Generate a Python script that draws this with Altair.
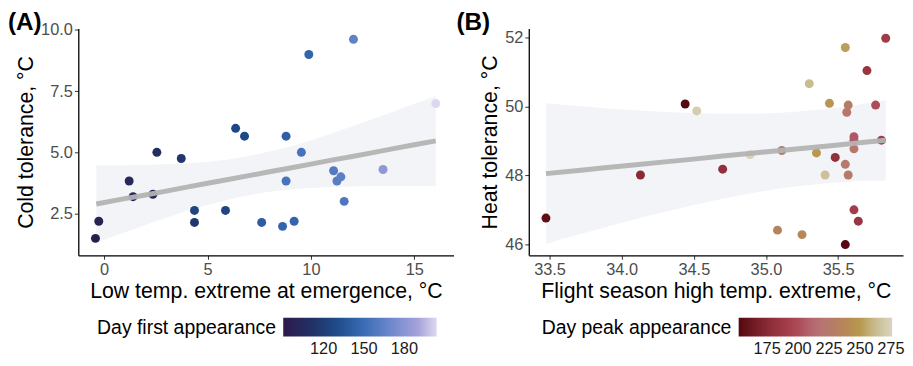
import altair as alt
import pandas as pd

FONT = "Liberation Sans"

# ---------------- Panel A data ----------------
a_low_temp = [-0.42, -0.26, 1.21, 1.40, 2.36, 2.55, 3.73, 4.37, 4.37, 5.87, 6.36, 6.79, 7.62,
              8.63, 8.80, 8.80, 9.19, 9.54, 9.90, 11.10, 11.26, 11.45, 11.61, 12.06, 13.49, 16.04]
a_cold_tol = [1.49, 2.19, 3.83, 3.19, 3.29, 5.00, 4.75, 2.63, 2.14, 2.63, 5.98, 5.66, 2.14,
              1.98, 5.66, 3.83, 2.19, 5.00, 8.99, 4.25, 3.83, 4.00, 3.00, 9.61, 4.30, 6.99]
a_day_first = [92, 98, 103, 103, 105, 110, 115, 125, 115, 125, 128, 128, 140,
               145, 142, 155, 145, 155, 145, 160, 162, 163, 158, 165, 182, 204]

# fitted trend and 95% band of panel A
a_fit_x = [-0.38, 1, 2, 3, 4, 5, 6, 7, 8, 9, 10, 11, 12, 13, 14, 15, 16.04]
a_fit = [2.89, 3.11, 3.26, 3.42, 3.58, 3.74, 3.89, 4.05, 4.21, 4.36, 4.52, 4.68, 4.83, 4.99,
         5.15, 5.31, 5.47]
a_fit_lo = [1.31, 1.74, 2.04, 2.33, 2.61, 2.85, 3.07, 3.25, 3.39, 3.48, 3.55, 3.59, 3.61, 3.63,
            3.63, 3.63, 3.62]
a_fit_hi = [4.47, 4.47, 4.49, 4.51, 4.55, 4.62, 4.71, 4.85, 5.03, 5.24, 5.49, 5.77, 6.06, 6.36,
            6.67, 6.98, 7.30]

# ---------------- Panel B data ----------------
b_high_temp = [33.475, 34.13, 34.44, 34.52, 34.70, 34.89, 35.08, 35.11, 35.25, 35.30, 35.35, 35.41,
               35.44, 35.48, 35.55, 35.55, 35.55, 35.56, 35.57, 35.57, 35.61, 35.61, 35.61, 35.61,
               35.64, 35.70, 35.76, 35.80, 35.83]
b_heat_tol = [46.76, 48.01, 50.07, 49.87, 48.18, 48.60, 46.41, 48.72, 46.28, 50.66, 48.65, 48.01,
              50.09, 48.52, 51.71, 45.99, 48.32, 49.83, 50.04, 48.01, 49.12, 49.02, 48.77, 47.00,
              46.67, 51.04, 50.04, 49.02, 51.98]
b_day_peak = [157, 175, 153, 272, 180, 275, 235, 230, 238, 262, 250, 265,
              248, 180, 252, 153, 225, 222, 228, 225, 205, 205, 222, 192,
              185, 185, 200, 192, 190]

# fitted trend and 95% band of panel B
b_fit_x = [33.475, 33.7, 33.9, 34.1, 34.3, 34.5, 34.7, 34.9, 35.1, 35.3, 35.5, 35.7, 35.83]
b_fit = [48.05, 48.14, 48.23, 48.31, 48.39, 48.47, 48.56, 48.64, 48.72, 48.80, 48.88, 48.97, 49.02]
b_fit_lo = [46.01, 46.28, 46.51, 46.73, 46.94, 47.14, 47.32, 47.48, 47.62, 47.72, 47.80, 47.84,
            47.85]
b_fit_hi = [50.09, 50.01, 49.94, 49.89, 49.84, 49.81, 49.79, 49.79, 49.82, 49.88, 49.97, 50.09,
            50.19]

panel_labels = ["(A)", "(B)"]


def panel(xs, ys, days, fx, fy, flo, fhi, label, labx, xtitle, ytitle, xdom, ydom, xticks,
          yticks, xfmt, yfmt, cdom, crange, ctitle, cvalues, legx, width, height):
    pts = pd.DataFrame({"x": xs, "y": ys, "day": days})
    fit = pd.DataFrame({"x": fx, "fit": fy, "lo": flo, "hi": fhi})
    xscale = alt.Scale(domain=xdom, nice=False, zero=False)
    yscale = alt.Scale(domain=ydom, nice=False, zero=False)
    xax = alt.Axis(values=xticks, format=xfmt, title=xtitle)
    yax = alt.Axis(values=yticks, format=yfmt, title=ytitle)

    band = alt.Chart(fit).mark_area(color="#f3f4f7", opacity=1, interpolate="monotone").encode(
        x=alt.X("x:Q", scale=xscale, axis=xax),
        y=alt.Y("lo:Q", scale=yscale, axis=yax),
        y2="hi:Q",
    )
    points = alt.Chart(pts).mark_circle(size=82, opacity=1).encode(
        x=alt.X("x:Q", scale=xscale, axis=xax),
        y=alt.Y("y:Q", scale=yscale, axis=yax),
        color=alt.Color(
            "day:Q",
            scale=alt.Scale(domain=cdom, range=crange, interpolate="rgb"),
            legend=alt.Legend(
                title=ctitle, orient="none", legendX=legx, legendY=292,
                direction="horizontal", titleOrient="left", titleAnchor="middle",
                titleBaseline="middle", titlePadding=7, titleFontSize=19.6, titleLimit=400,
                titleFontWeight="normal", titleFont=FONT, titleColor="black",
                gradientLength=155, gradientThickness=19, gradientStrokeWidth=0,
                values=cvalues, labelFontSize=16.5, labelFont=FONT,
                labelColor="#1a1a1a", labelOffset=5, labelOverlap=False,
            ),
        ),
    )
    line = alt.Chart(fit).mark_line(color="#b3b3b3", strokeWidth=5, opacity=0.95).encode(
        x=alt.X("x:Q", scale=xscale, axis=xax),
        y=alt.Y("fit:Q", scale=yscale, axis=yax),
    )
    lab = alt.Chart(pd.DataFrame({"t": [label]})).mark_text(
        align="left", baseline="top", fontSize=24.5, fontWeight="bold", font=FONT, color="black"
    ).encode(text="t:N", x=alt.value(labx), y=alt.value(-18))
    return alt.layer(band, points, line, lab).properties(width=width, height=height)


chart_a = panel(
    a_low_temp, a_cold_tol, a_day_first, a_fit_x, a_fit, a_fit_lo, a_fit_hi,
    panel_labels[0], -71,
    "Low temp. extreme at emergence, °C", "Cold tolerance, °C",
    [-1.25, 16.9], [0.8, 10.05], [0, 5, 10, 15], [2.5, 5.0, 7.5, 10.0], "d", ".1f",
    [90, 110, 130, 150, 170, 190, 204],
    ["#2c1a4c", "#222f63", "#1f4c8a", "#3b6cb6", "#6d88cc", "#a6a2da", "#dcd8f0"],
    "Day first appearance", [120, 150, 180], 19, 379, 229,
)

chart_b = panel(
    b_high_temp, b_heat_tol, b_day_peak, b_fit_x, b_fit, b_fit_lo, b_fit_hi,
    panel_labels[1], -73,
    "Flight season high temp. extreme, °C", "Heat tolerance, °C",
    [33.356, 35.95], [45.68, 52.26], [33.5, 34.0, 34.5, 35.0, 35.5], [46, 48, 50, 52], ".1f", "d",
    [152, 175, 195, 215, 235, 250, 262, 276],
    ["#55080e", "#8a2a36", "#a8404c", "#b8707a", "#b5845a", "#b8984e", "#c8bc90", "#dad4c0"],
    "Day peak appearance", [175, 200, 225, 250, 275], 13, 378, 229,
)

chart = alt.hconcat(chart_a, chart_b, spacing=3).resolve_scale(
    color="independent"
).resolve_legend(color="independent").properties(padding=0).configure_view(
    stroke=None
).configure_axis(
    grid=False, domainColor="black", domainWidth=1.3, tickColor="#333333", tickSize=4,
    tickWidth=1, labelFont=FONT, labelFontSize=16.5, labelColor="#4d4d4d", labelPadding=2,
    titleFont=FONT, titleFontSize=21.5, titleFontWeight="normal", titleColor="black",
    titlePadding=3,
)

chart.save("out.html", embed_options={"renderer": "svg", "actions": False})
